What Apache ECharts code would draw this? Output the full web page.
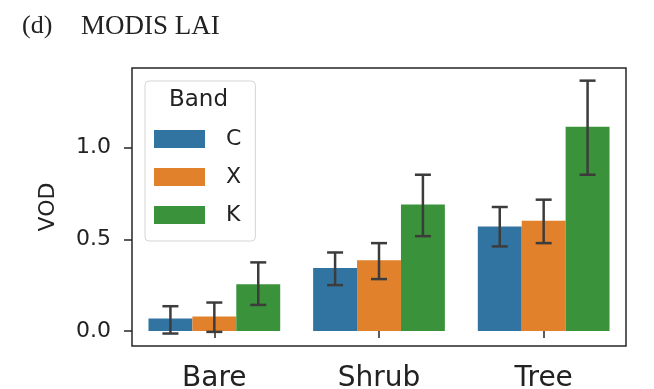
<!DOCTYPE html>
<html>
<head>
<meta charset="utf-8">
<script src="https://cdn.jsdelivr.net/npm/echarts@6/dist/echarts.min.js"></script>
<style>html,body{margin:0;padding:0;background:#fff}#c{width:654px;height:389px}</style>
</head>
<body>
<div id="c"></div>
<script>
const categories = ['Bare', 'Shrub', 'Tree'];
const bands = ['C', 'X', 'K'];
const valC = [0.068, 0.344, 0.570];
const valX = [0.079, 0.385, 0.601];
const valK = [0.255, 0.689, 1.113];
const lowC = [-0.014, 0.250, 0.461];
const highC = [0.135, 0.428, 0.676];
const lowX = [-0.005, 0.283, 0.479];
const highX = [0.155, 0.479, 0.716];
const lowK = [0.142, 0.517, 0.852];
const highK = [0.374, 0.852, 1.365];
const yTicks = [0, 0.5, 1.0];

const colors = ['#3274a1', '#e1812c', '#3a923a'];
const vals = [valC, valX, valK];
const lows = [lowC, lowX, lowK];
const highs = [highC, highX, highK];

const chart = echarts.init(document.getElementById('c'));

function errRender(bandIdx) {
  return function (params, api) {
    const x = api.value(0);
    const lo = api.coord([x, api.value(1)]);
    const hi = api.coord([x, api.value(2)]);
    const bw = api.size([1, 0])[0];
    const barW = bw * 0.8 / 3;
    const cx = lo[0] + (bandIdx - 1) * barW;
    const cap = 8;
    const st = { stroke: '#3c3c3c', lineWidth: 2.5 };
    return {
      type: 'group',
      children: [
        { type: 'line', shape: { x1: cx, y1: lo[1], x2: cx, y2: hi[1] }, style: st },
        { type: 'line', shape: { x1: cx - cap, y1: hi[1], x2: cx + cap, y2: hi[1] }, style: st },
        { type: 'line', shape: { x1: cx - cap, y1: lo[1], x2: cx + cap, y2: lo[1] }, style: st }
      ]
    };
  };
}

const series = [];
bands.forEach((b, i) => {
  series.push({
    name: b, type: 'bar', data: vals[i], barGap: '0%', barCategoryGap: '20%',
    itemStyle: { color: colors[i] }, silent: true
  });
});
bands.forEach((b, i) => {
  series.push({
    name: 'err' + b, type: 'custom', z: 5, silent: true,
    renderItem: errRender(i),
    data: categories.map((c, k) => [k, lows[i][k], highs[i][k]])
  });
});

chart.setOption({
  animation: false,
  title: [
    { text: '(d)', left: 17, top: 8, textStyle: { fontFamily: 'Liberation Serif', fontSize: 26, fontWeight: 'normal', color: '#222' } },
    { text: 'MODIS LAI', left: 76, top: 8, textStyle: { fontFamily: 'Liberation Serif', fontSize: 27, fontWeight: 'normal', color: '#222' } }
  ],
  grid: { left: 132, top: 68, right: 28, bottom: 43, show: true, borderColor: '#262626', borderWidth: 1.5, backgroundColor: 'transparent', outerBoundsMode: 'none', containLabel: false },
  legend: {
    data: bands, orient: 'vertical', left: 145, top: 81,
    padding: [47, 14, 15, 9], itemGap: 16, itemWidth: 51, itemHeight: 18,
    icon: 'rect', backgroundColor: '#fff', borderColor: '#d5d5d5', borderWidth: 1, borderRadius: 4,
    textStyle: { fontFamily: 'DejaVu Sans', fontSize: 22, color: '#222', padding: [0, 0, 0, 16] },
    selectedMode: false
  },
  graphic: [
    { type: 'text', left: 169, top: 89, z: 100, style: { text: 'Band', font: '23px "DejaVu Sans"', fill: '#222' } }
  ],
  xAxis: {
    type: 'category', data: categories,
    axisLine: { show: false },
    axisTick: { show: true, alignWithLabel: true, length: 7, lineStyle: { color: '#262626', width: 1.5 } },
    axisLabel: { fontFamily: 'DejaVu Sans', fontSize: 28, color: '#222', margin: 19 }
  },
  yAxis: {
    type: 'value', min: -0.082, max: 1.434,
    name: 'VOD', nameLocation: 'middle', nameGap: 73,
    nameTextStyle: { fontFamily: 'DejaVu Sans', fontSize: 22, color: '#222' },
    splitLine: { show: false },
    axisLine: { show: false },
    axisTick: { show: true, customValues: yTicks, length: 8, lineStyle: { color: '#262626', width: 1.5 } },
    axisLabel: { customValues: yTicks, fontFamily: 'DejaVu Sans', fontSize: 22, color: '#222', margin: 21,
      formatter: v => v.toFixed(1) }
  },
  series: series
});
</script>
</body>
</html>
